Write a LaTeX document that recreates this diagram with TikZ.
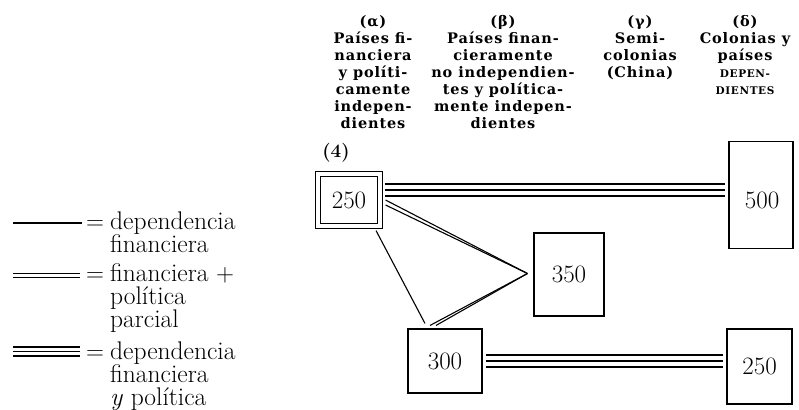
\documentclass[tikz,border=0pt]{standalone}
\usepackage{fontspec}
\newfontfamily\hdrfont{DejaVu Serif}[LetterSpace=6]
\usetikzlibrary{calc}
\tikzset{
  box/.style={draw, line width=1.1pt, inner sep=0pt, font=\fontsize{25}{25}\selectfont},
  dbox/.style={box, double, double distance=4pt},
  conn/.style={line width=1.1pt},
  triple/.style={line width=1.1pt, double, double distance=10.9pt},
  ltriple/.style={line width=1.1pt, double, double distance=7.9pt},
  ldouble/.style={line width=1.1pt, double, double distance=3.4pt},
  hdr/.style={align=center, anchor=north, inner sep=0pt,
    font=\hdrfont\bfseries\fontsize{14.5}{16.9}\selectfont},
  lgd/.style={anchor=base west, align=left, inner sep=0pt, font=\fontsize{25.5}{23}\selectfont},
}
\begin{document}
\begin{tikzpicture}[x=1pt, y=-1pt]
\useasboundingbox (0,0) rectangle (799,409);

% column headers
\node[hdr] (ha) at (373,15.5) {(α)\\Países fi-\\nanciera\\y políti-\\camente\\indepen-\\dientes};
\node[hdr] (hb) at (503,15.5) {(β)\\Países finan-\\cieramente\\no independien-\\tes y política-\\mente indepen-\\dientes};
\node[hdr] (hc) at (640,15.5) {(γ)\\Semi-\\colonias\\(China)};
\node[hdr] (hd) at (745,15.5) {(δ)\\Colonias y\\países\\{\fontsize{10.5}{16.9}\selectfont DEPEN-}\\{\fontsize{10.5}{16.9}\selectfont DIENTES}};

\node[font=\fontsize{19}{19}\selectfont\bfseries, inner sep=0pt] (n4) at (336,153) {(4)};

% boxes
\node[dbox, minimum width=62pt, minimum height=52pt] (A) at (349,200) {250};
\node[box, minimum width=64pt, minimum height=107pt] (B) at (761,195) {};
\node[font=\fontsize{25}{25}\selectfont, inner sep=0pt] (Bt) at (762,200) {500};
\node[box, minimum width=70pt, minimum height=83pt] (C) at (569,274.5) {350};
\node[box, minimum width=74pt, minimum height=64pt] (D) at (445,361) {300};
\node[box, minimum width=65pt, minimum height=75pt] (E) at (759.5,366.5) {250};

% connectors
\coordinate (cv) at ($(C.west)+(-6,-1)$);
\draw[triple] ($(A.east)+(4,-10)$) -- ($(A.east -| B.west)+(-3,-10)$);
\draw[conn]   ($(A.east)+(4,-10)$) -- ($(A.east -| B.west)+(-3,-10)$);
\draw[conn] ($(A.east)+(5,0)$) -- (cv);
\draw[conn] ($(A.east)+(5,5)$) -- (cv);
\draw[conn] ($(D.north)+(-15,-3)$) -- (cv);
\draw[conn] ($(D.north)+(-9,-3)$) -- (cv);
\draw[conn] ($(A.south)+(27,4)$) -- ($(D.north)+(-20,-5)$);
\draw[triple] ($(D.east)+(3,0)$) -- ($(D.east -| E.west)+(-3,0)$);
\draw[conn]   ($(D.east)+(3,0)$) -- ($(D.east -| E.west)+(-3,0)$);

% legend
\coordinate (l1a) at (13,223); \coordinate (l1b) at (82,223);
\coordinate (l2a) at (13,275.5); \coordinate (l2b) at (80,275.5);
\coordinate (l3a) at (13,351.5); \coordinate (l3b) at (80,351.5);
\draw[conn] (l1a) -- (l1b);
\draw[ldouble] (l2a) -- (l2b);
\draw[ltriple] (l3a) -- (l3b);
\draw[conn] (l3a) -- (l3b);

\node[lgd] (e1) at (86,229) {$=$};
\node[lgd] (e2) at (86,281) {$=$};
\node[lgd] (e3) at (86,359) {$=$};
\node[lgd] (t1) at (110,252) {dependencia\\financiera};
\node[lgd] (t2) at (110,327) {financiera $+$\\política\\parcial};
\node[lgd] (t3) at (110,405) {dependencia\\financiera\\\textit{y} política};
\end{tikzpicture}
\end{document}
